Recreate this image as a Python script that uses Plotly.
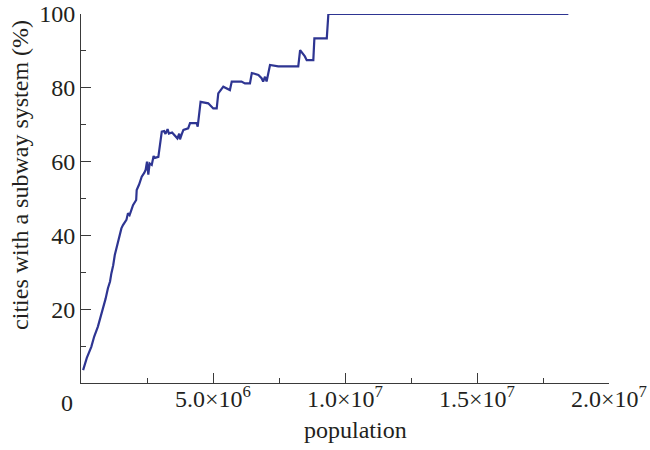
import numpy as np
import plotly.graph_objects as go

# population (millions) vs share of cities with a subway system (%)
population_millions = [
    0.08, 0.22, 0.39, 0.50, 0.64, 0.74, 0.83, 0.93, 1.02, 1.10, 1.15, 1.22,
    1.28, 1.34, 1.40, 1.47, 1.53, 1.59, 1.66, 1.72, 1.78, 1.84, 1.91, 1.97,
    2.09, 2.11, 2.20, 2.30, 2.40, 2.45, 2.50, 2.55, 2.60, 2.68, 2.75, 2.80,
    2.93, 3.06, 3.15, 3.20, 3.28, 3.33, 3.45, 3.55, 3.65, 3.72, 3.75, 3.82,
    3.88, 4.06, 4.13, 4.38, 4.42, 4.53, 4.82, 5.01, 5.14, 5.20, 5.33, 5.39,
    5.64, 5.71, 6.08, 6.21, 6.40, 6.47, 6.72, 6.84, 6.90, 6.97, 7.03, 7.10,
    7.16, 7.47, 8.23, 8.30, 8.48, 8.55, 8.80, 8.84, 9.31, 9.37, 18.46,
]
subway_share = [
    3.5, 6.8, 9.8, 12.6, 15.3, 17.9, 19.8, 22.8, 25.7, 27.5, 29.7, 31.9,
    34.7, 36.4, 38.3, 40.5, 41.9, 42.8, 43.6, 44.2, 46.0, 45.5, 46.9, 48.2,
    49.6, 52.3, 53.8, 55.9, 57.0, 57.8, 60.0, 56.5, 59.5, 59.1, 61.5, 61.0,
    61.3, 68.1, 68.3, 67.5, 68.8, 67.6, 67.9, 67.0, 66.3, 67.6, 66.0, 67.5,
    68.6, 69.0, 70.4, 70.4, 69.5, 76.2, 75.8, 74.4, 74.4, 78.5, 79.8, 80.3,
    79.4, 81.7, 81.7, 81.2, 81.2, 84.0, 83.5, 82.6, 81.7, 83.0, 81.7, 84.0,
    86.2, 85.8, 85.8, 90.2, 88.5, 87.5, 87.5, 93.4, 93.4, 100.0, 100.0,
]

x_tickvals = [5e6, 1e7, 1.5e7, 2e7]
x_ticktext = ["5.0×10<sup>6</sup>", "1.0×10<sup>7</sup>",
              "1.5×10<sup>7</sup>", "2.0×10<sup>7</sup>"]
y_tickvals = [20, 40, 60, 80, 100]

font_family = "Liberation Serif"
font_size = 24
title_size = 24
text_color = "#231f20"
axis_color = "#3a3a3a"

fig = go.Figure()
fig.add_trace(
    go.Scatter(
        x=np.array(population_millions) * 1e6,
        y=subway_share,
        mode="lines",
        line=dict(color="#2e3592", width=2.2),
        cliponaxis=False,
        showlegend=False,
    )
)

fig.update_xaxes(
    range=[0, 2e7],
    automargin=False,
    tickmode="array",
    tickvals=x_tickvals,
    ticktext=x_ticktext,
    ticks="inside",
    ticklen=10,
    tickcolor=axis_color,
    ticklabelstandoff=-6,
    ticklabeloverflow="allow",
    minor=dict(ticks="inside", ticklen=5, tickcolor=axis_color,
               tickmode="array", tickvals=[2.5e6, 7.5e6, 1.25e7, 1.75e7]),
    showline=True,
    linecolor=axis_color,
    linewidth=1,
    showgrid=False,
    zeroline=False,
    tickfont=dict(family=font_family, size=font_size, color=text_color),
)
fig.update_yaxes(
    range=[0, 100],
    automargin=False,
    tickmode="array",
    tickvals=y_tickvals,
    ticks="inside",
    ticklen=10,
    tickcolor=axis_color,
    ticklabeloverflow="allow",
    minor=dict(ticks="inside", ticklen=5, tickcolor=axis_color,
               tickmode="array", tickvals=[10, 30, 50, 70, 90]),
    showline=True,
    linecolor=axis_color,
    linewidth=1,
    showgrid=False,
    zeroline=False,
    tickfont=dict(family=font_family, size=font_size, color=text_color),
)

fig.add_annotation(
    text="0", x=0, y=0, xref="x", yref="y", xshift=-14, yshift=-20,
    xanchor="center", yanchor="middle",
    showarrow=False, font=dict(family=font_family, size=font_size, color=text_color),
)
fig.add_annotation(
    text="population", x=0.519, y=-0.127, xref="paper", yref="paper",
    xanchor="center", yanchor="middle",
    showarrow=False, font=dict(family=font_family, size=title_size, color=text_color),
)
fig.add_annotation(
    text="cities with a subway system (%)", x=-0.1155, y=0.564,
    xref="paper", yref="paper", textangle=-90, showarrow=False,
    xanchor="center", yanchor="middle",
    font=dict(family=font_family, size=title_size, color=text_color),
)

fig.update_layout(
    width=650,
    height=450,
    margin=dict(l=81, r=41, t=14, b=67),
    plot_bgcolor="white",
    paper_bgcolor="white",
    font=dict(family=font_family, color=text_color),
)

# drop the default body margin so the figure sits at the page corner
fig.write_html(
    "out.html",
    config={"displayModeBar": False},
    post_script="document.body.style.margin='0';document.body.style.overflow='hidden';",
)
